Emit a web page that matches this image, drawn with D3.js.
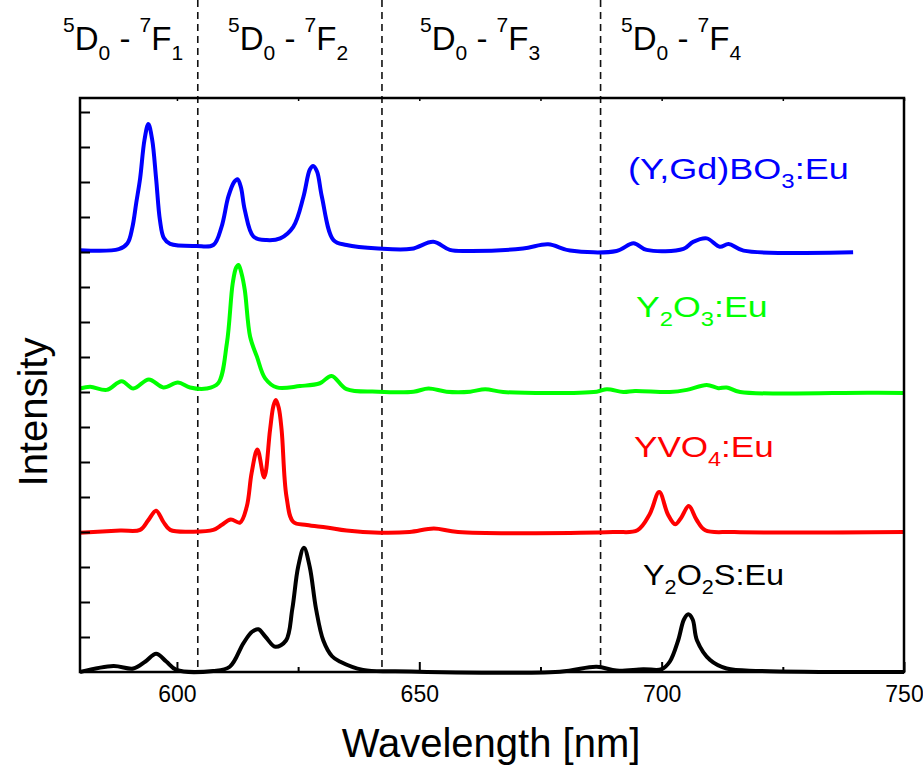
<!DOCTYPE html>
<html>
<head>
<meta charset="utf-8">
<script src="https://cdn.jsdelivr.net/npm/d3@7"></script>
<style>
  body { margin: 0; background: #fff; }
  text { font-family: Arial, "Liberation Sans", sans-serif; }
</style>
</head>
<body>
<svg id="chart" width="923" height="766"></svg>
<script>
// spectra, intensity above each trace's own baseline
const blueData = [[580, 0.05], [588, 0.08], [589.8, 0.25], [590.8, 0.7], [591.6, 1.4], [592.4, 2.1], [593.3, 3.2], [594.1, 3.66],
  [594.9, 3.2], [595.7, 2.1], [596.5, 0.9], [597.3, 0.4], [598.6, 0.23], [604, 0.17], [607.5, 0.2], [609.2, 0.72],
  [610.6, 1.58], [611.8, 2.0], [612.5, 2.08], [613.2, 1.85], [614, 1.2], [615.8, 0.44], [618.5, 0.34], [621.3, 0.39],
  [624, 0.72], [626.1, 1.58], [627.4, 2.35], [628.1, 2.46], [628.9, 2.3], [629.9, 1.58], [632.3, 0.34], [635, 0.2],
  [641.5, 0.1], [648.4, 0.09], [652.9, 0.29], [656.3, 0.06], [660.5, 0.03], [671.4, 0.1], [676.6, 0.22], [681.1, 0.04],
  [690.7, 0.03], [694.2, 0.25], [696.9, 0.06], [704.5, 0.09], [706.5, 0.29], [709.3, 0.39], [712, 0.15], [713.8, 0.23],
  [716.9, 0.04], [739.5, -0.01]];

const greenData = [[580, 0.1], [582.1, 0.15], [585.5, 0.06], [588.6, 0.31], [591, 0.1], [594.2, 0.36], [597.2, 0.13],
  [600.2, 0.27], [602.7, 0.13], [606.1, 0.1], [608.5, 0.25], [610.3, 1.39], [611.5, 3.1], [612.2, 3.55], [612.7, 3.63],
  [613.3, 3.4], [614, 2.91], [615.1, 1.58], [616.5, 1.01], [618.2, 0.39], [620.6, 0.13], [625.4, 0.17], [629.5, 0.25],
  [631.9, 0.46], [635, 0.08], [641.5, 0.01], [648.8, 0.01], [651.9, 0.1], [655.6, 0.01], [660.5, 0.01], [663.6, 0.08],
  [667.3, 0], [686.6, 0.01], [688.7, 0.08], [692.1, 0], [694.5, 0.03], [701.7, 0], [705.2, 0.06], [709.3, 0.2],
  [711.7, 0.11], [713.4, 0.13], [716.2, 0], [743, -0.02], [750, -0.03]];

const redData = [[580, -0.02], [588.3, 0.04], [592.4, 0.06], [594.1, 0.34], [595.7, 0.61], [597.2, 0.29], [598.6, 0.06],
  [603.4, 0.01], [607.5, 0.06], [609.2, 0.2], [611.1, 0.36], [613, 0.27], [614.4, 0.72], [615.4, 1.68], [616.6, 2.36],
  [618, 1.56], [619.2, 2.91], [619.9, 3.6], [620.4, 3.77], [621, 3.55], [621.6, 2.91], [622.6, 1.01], [624, 0.29],
  [626.8, 0.2], [630.9, 0.13], [635, 0.04], [641.9, -0.02], [648, 0.0], [653, 0.1], [658, 0.0], [690, 0.0], [695, 0.05],
  [697.5, 0.5], [699.5, 1.14], [701.3, 0.5], [702.8, 0.22], [704, 0.4], [705.6, 0.74], [707.2, 0.35], [709, 0.05],
  [715, 0], [750, 0]];

const blackData = [[580, 0], [586.9, 0.17], [591, 0.1], [593.5, 0.3], [595.7, 0.52], [597.8, 0.3], [599.9, 0.06],
  [607.5, 0.03], [610.9, 0.15], [613.7, 0.82], [615.5, 1.15], [616.8, 1.22], [618.3, 1.0], [620.3, 0.72], [622.5, 0.9],
  [623.8, 1.8], [625, 3.0], [626.2, 3.55], [627.4, 3.0], [628.7, 1.8], [630.2, 0.9], [632, 0.45], [633.6, 0.3],
  [638.4, 0.06], [645, 0.02], [679, 0.01], [686.6, 0.15], [690.7, 0.04], [696.2, 0.08], [700, 0.08], [701.7, 0.3],
  [703.4, 0.9], [704.6, 1.5], [705.5, 1.65], [706.4, 1.5], [707.3, 0.9], [710, 0.34], [713.4, 0.1], [720.4, 0.03],
  [750, 0]];

const seriesData = [blueData, greenData, redData, blackData];
const seriesOffsets = [12, 8, 4, 0];
const seriesColors = ["#0000ff", "#00ff00", "#ff0000", "#000000"];
// label parts: [text, subscript?]
const seriesLabels = [
  [["(Y,Gd)BO", 0], ["3", 1], [":Eu", 0]],
  [["Y", 0], ["2", 1], ["O", 0], ["3", 1], [":Eu", 0]],
  [["YVO", 0], ["4", 1], [":Eu", 0]],
  [["Y", 0], ["2", 1], ["O", 0], ["2", 1], ["S:Eu", 0]]
];
const labelPos = [[628, 179], [636, 317], [634, 457], [643, 585]];
const labelStretch = [1.2, 1.19, 1.17, 1.08];

const transitionLines = [604.3, 642.3, 687.4];
const transitionIdx = ["1", "2", "3", "4"];
const transitionX = [63, 228, 420, 621];

const xTicks = [600, 650, 700, 750];
const xMinor = [625, 675, 725];
const yTicks = d3.range(1, 17);

const svg = d3.select("#chart");
const mLeft = 80, mRight = 904, mTop = 98, mBottom = 672;

const x = d3.scaleLinear().domain([580, 750]).range([mLeft, mRight]);
const y = d3.scaleLinear().domain([0, 16.4]).range([mBottom, mTop]);

// transition separators
svg.selectAll("line.sep").data(transitionLines).enter().append("line")
  .attr("class", "sep")
  .attr("x1", d => x(d)).attr("x2", d => x(d))
  .attr("y1", 0).attr("y2", mBottom)
  .attr("stroke", "#111").attr("stroke-width", 1.6).attr("stroke-dasharray", "7,5");

// spectra
const line = d3.line().x(d => x(d[0])).curve(d3.curveCatmullRom.alpha(0.5));
seriesData.forEach((s, i) => {
  svg.append("path")
    .datum(s)
    .attr("fill", "none")
    .attr("stroke", seriesColors[i])
    .attr("stroke-width", 4)
    .attr("stroke-linejoin", "round")
    .attr("d", line.y(d => y(d[1] + seriesOffsets[i])));
});

// axes
const xAxis = svg.append("g").attr("transform", `translate(0,${mBottom})`)
  .call(d3.axisBottom(x).tickValues(xTicks).tickSizeInner(-10).tickSizeOuter(0).tickPadding(14));
xAxis.select(".domain").remove();
xAxis.selectAll("line").attr("stroke", "#000").attr("stroke-width", 2);
xAxis.selectAll("text").attr("font-size", 23).attr("fill", "#000")
  .attr("font-family", "Arial, 'Liberation Sans', sans-serif");

svg.append("g").attr("transform", `translate(0,${mBottom})`)
  .call(d3.axisBottom(x).tickValues(xMinor).tickSizeInner(-5).tickSizeOuter(0).tickFormat(""))
  .call(g => g.select(".domain").remove())
  .selectAll("line").attr("stroke", "#000").attr("stroke-width", 2);

svg.append("g").attr("transform", `translate(0,${mTop})`)
  .call(d3.axisTop(x).tickValues(xTicks.concat(xMinor)).tickSizeInner(-3).tickSizeOuter(0).tickFormat(""))
  .call(g => g.select(".domain").remove())
  .selectAll("line").attr("stroke", "#000").attr("stroke-width", 1.5);

svg.append("g").attr("transform", `translate(${mLeft},0)`)
  .call(d3.axisLeft(y).tickValues(yTicks).tickSizeInner(-10).tickSizeOuter(0).tickFormat(""))
  .call(g => g.select(".domain").remove())
  .selectAll("line").attr("stroke", "#000").attr("stroke-width", 2);

// frame
svg.append("rect")
  .attr("x", mLeft).attr("y", mTop)
  .attr("width", mRight - mLeft).attr("height", mBottom - mTop)
  .attr("fill", "none").attr("stroke", "#000").attr("stroke-width", 2.5);

// series labels (the original text is a little wide, hence the x stretch)
seriesLabels.forEach((parts, i) => {
  const t = svg.append("text")
    .attr("transform", `translate(${labelPos[i][0]},${labelPos[i][1]}) scale(${labelStretch[i]},1)`)
    .attr("font-size", 30).attr("fill", seriesColors[i]);
  let shifted = 0;
  parts.forEach(([txt, sub]) => {
    const dy = sub ? 9 - shifted : -shifted;
    shifted = sub ? 9 : 0;
    t.append("tspan").attr("dy", dy).attr("font-size", sub ? 20 : 30).text(txt);
  });
});

// transition labels at top
transitionIdx.forEach((n, i) => {
  const t = svg.append("text")
    .attr("x", transitionX[i]).attr("y", 50)
    .attr("font-size", 33).attr("fill", "#000");
  t.append("tspan").attr("dy", -18).attr("font-size", 21).text("5");
  t.append("tspan").attr("dy", 18).text("D");
  t.append("tspan").attr("dy", 10).attr("font-size", 21).text("0");
  t.append("tspan").attr("dy", -10).text(" - ");
  t.append("tspan").attr("dy", -18).attr("font-size", 21).text("7");
  t.append("tspan").attr("dy", 18).text("F");
  t.append("tspan").attr("dy", 10).attr("font-size", 21).text(n);
});

// axis titles
svg.append("text")
  .attr("x", 491).attr("y", 757)
  .attr("text-anchor", "middle")
  .attr("font-size", 40).attr("fill", "#000")
  .text("Wavelength [nm]");

svg.append("text")
  .attr("transform", "translate(47,412) rotate(-90)")
  .attr("text-anchor", "middle")
  .attr("font-size", 40).attr("fill", "#000")
  .text("Intensity");
</script>
</body>
</html>
